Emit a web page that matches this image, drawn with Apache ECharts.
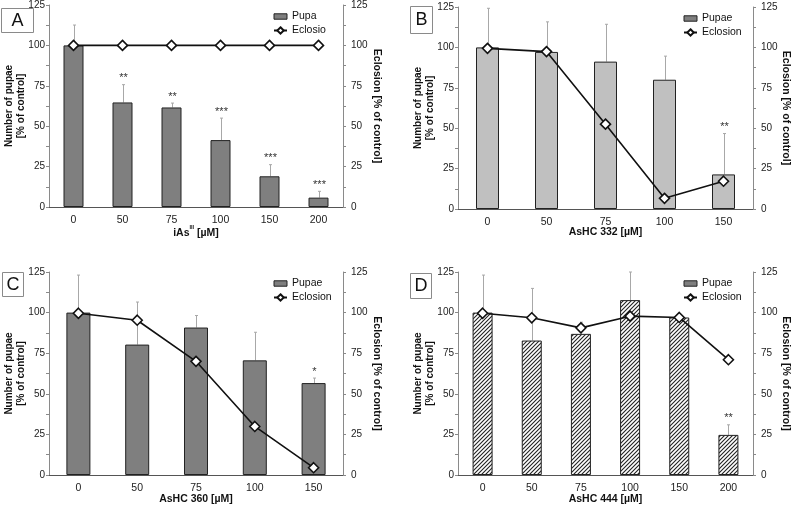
<!DOCTYPE html>
<html><head><meta charset="utf-8">
<script src="https://cdn.jsdelivr.net/npm/echarts@6/dist/echarts.min.js"></script>
<style>html,body{margin:0;padding:0;background:#fff}#c{width:792px;height:507px}</style>
</head><body><div id="c"></div>
<script>
// ---- Panel A: iAs(III)
const catsA = ['0', '50', '75', '100', '150', '200'];
const pupaA = [100, 64.7, 61.6, 41.4, 19.0, 5.8];
const pupaErrTopA = [112.6, 75.7, 64.3, 55.0, 26.2, 9.7];
const eclosionA = [100, 100, 100, 100, 100, 100];
const sigA = ['', '**', '**', '***', '***', '***'];
// ---- Panel B: AsHC 332
const catsB = ['0', '50', '75', '100', '150'];
const pupaB = [100, 97.2, 91.2, 80.0, 21.4];
const pupaErrTopB = [124.2, 115.8, 114.3, 94.6, 46.7];
const eclosionB = [99.4, 97.4, 52.5, 6.6, 17.2];
const sigB = ['', '', '', '', '**'];
// ---- Panel C: AsHC 360
const catsC = ['0', '50', '75', '100', '150'];
const pupaC = [100, 80.3, 90.8, 70.6, 56.6];
const pupaErrTopC = [123.1, 106.5, 98.2, 87.9, 59.7];
const eclosionC = [99.6, 95.3, 70.0, 29.9, 4.5];
const sigC = ['', '', '', '', '*'];
// ---- Panel D: AsHC 444
const catsD = ['0', '50', '75', '100', '150', '200'];
const pupaD = [100, 82.8, 86.9, 107.7, 97.0, 24.7];
const pupaErrTopD = [123.1, 114.9, 94.1, 125.0, 97.0, 30.9];
const eclosionD = [99.6, 96.8, 90.6, 97.8, 97.0, 71.0];
const sigD = ['', '', '', '', '', '**'];

const yTicks = {min: 0, max: 125, interval: 25};
const FF = '"Liberation Sans", Arial, sans-serif';

function hatch() {
  const c = document.createElement('canvas');
  c.width = 4; c.height = 4;
  const g = c.getContext('2d');
  g.fillStyle = '#fff'; g.fillRect(0, 0, 4, 4);
  g.strokeStyle = '#222'; g.lineWidth = 1.1;
  g.beginPath();
  g.moveTo(0, 4); g.lineTo(4, 0);
  g.moveTo(-1, 1); g.lineTo(1, -1);
  g.moveTo(3, 5); g.lineTo(5, 3);
  g.stroke();
  return c;
}

const panels = [
  {cats: catsA, pupa: pupaA, err: pupaErrTopA, ecl: eclosionA, sig: sigA, names: ['Pupa', 'Eclosio'],
   grid: {left: 49, right: 449, top: 5, bottom: 300}, barWidth: 20, barColor: '#7f7f7f',
   xName: '{n|iAs}{s|III}{n| [µM]}', xGap: 17, legend: {left: 268, top: 6}, yGap: 22, yGapR: 28},
  {cats: catsB, pupa: pupaB, err: pupaErrTopB, ecl: eclosionB, sig: sigB, names: ['Pupae', 'Eclosion'],
   grid: {left: 458, right: 39, top: 7, bottom: 298}, barWidth: 23, barColor: '#c0c0c0',
   xName: 'AsHC 332 [µM]', xGap: 18, legend: {left: 678, top: 8}, yGap: 22, yGapR: 27},
  {cats: catsC, pupa: pupaC, err: pupaErrTopC, ecl: eclosionC, sig: sigC, names: ['Pupae', 'Eclosion'],
   grid: {left: 49, right: 449, top: 272, bottom: 32}, barWidth: 24, barColor: '#7f7f7f',
   xName: 'AsHC 360 [µM]', xGap: 19, legend: {left: 268, top: 273}, yGap: 22, yGapR: 28},
  {cats: catsD, pupa: pupaD, err: pupaErrTopD, ecl: eclosionD, sig: sigD, names: ['Pupae', 'Eclosion'],
   grid: {left: 458, right: 39, top: 272, bottom: 32}, barWidth: 20, barColor: {image: hatch(), repeat: 'repeat'},
   xName: 'AsHC 444 [µM]', xGap: 19, legend: {left: 678, top: 273}, yGap: 22, yGapR: 27}
];

const option = {
  animation: false,
  backgroundColor: '#fff',
  textStyle: {fontFamily: FF},
  grid: [], xAxis: [], yAxis: [], series: [], legend: [], graphic: []
};

panels.forEach((p, k) => {
  option.grid.push(Object.assign({outerBoundsMode: 'none', containLabel: false}, p.grid));
  option.xAxis.push({
    type: 'category', gridIndex: k, data: p.cats,
    axisLine: {lineStyle: {color: '#555', width: 1}},
    axisTick: {show: false},
    axisLabel: {fontSize: 10.5, color: '#222', margin: 8, fontFamily: FF},
    name: p.xName, nameLocation: 'middle', nameGap: p.xGap, nameMoveOverlap: false,
    nameTextStyle: {fontWeight: 'bold', fontSize: 10.5, color: '#111', fontFamily: FF,
      rich: {n: {fontWeight: 'bold', fontSize: 10.5, color: '#111', lineHeight: 15, verticalAlign: 'bottom', fontFamily: FF},
             s: {fontWeight: 'bold', fontSize: 5.5, color: '#111', lineHeight: 6, verticalAlign: 'top', fontFamily: FF}}}
  });
  const yCommon = {
    type: 'value', gridIndex: k, min: yTicks.min, max: yTicks.max, interval: yTicks.interval,
    axisLine: {show: true, lineStyle: {color: '#8a8a8a', width: 1}},
    axisTick: {show: true, length: 3, lineStyle: {color: '#8a8a8a'}},
    minorTick: {show: true, splitNumber: 2, length: 3, lineStyle: {color: '#8a8a8a'}},
    splitLine: {show: false}, minorSplitLine: {show: false},
    nameLocation: 'middle', nameMoveOverlap: false
  };
  option.yAxis.push(Object.assign({}, yCommon, {
    position: 'left',
    axisLabel: {fontSize: 10, color: '#222', margin: 4, fontFamily: FF},
    name: 'Number of pupae\n[% of control]', nameRotate: 90, nameGap: p.yGap,
    nameTextStyle: {fontWeight: 'bold', fontSize: 10, color: '#111', lineHeight: 12, fontFamily: FF}
  }));
  option.yAxis.push(Object.assign({}, yCommon, {
    position: 'right',
    axisLabel: {fontSize: 10, color: '#222', margin: 8, fontFamily: FF},
    name: 'Eclosion [% of control]', nameRotate: -90, nameGap: p.yGapR,
    nameTextStyle: {fontWeight: 'bold', fontSize: 10.5, color: '#111', fontFamily: FF}
  }));
  option.series.push({
    type: 'custom', name: 'err' + k, xAxisIndex: k, yAxisIndex: 2 * k, z: 1, silent: true,
    data: p.pupa.map((v, i) => [i, v, p.err[i]]),
    renderItem: (params, api) => {
      const i = api.value(0);
      const a = api.coord([i, api.value(1)]);
      const b = api.coord([i, api.value(2)]);
      const x = Math.round(a[0]) + 0.5;
      const ch = [];
      if (a[1] - b[1] > 0.5) {
        ch.push({type: 'line', shape: {x1: x, y1: a[1], x2: x, y2: b[1]}, style: {stroke: '#a8a8a8', lineWidth: 1}});
        ch.push({type: 'line', shape: {x1: x - 1.5, y1: b[1], x2: x + 1.5, y2: b[1]}, style: {stroke: '#a8a8a8', lineWidth: 1}});
      }
      const s = p.sig[params.dataIndex];
      if (s) ch.push({type: 'text', x: x, y: b[1] - 1,
        style: {text: s, fill: '#333', font: '11px ' + FF, align: 'center', verticalAlign: 'bottom'}});
      return {type: 'group', children: ch};
    }
  });
  option.series.push({
    type: 'bar', name: p.names[0], xAxisIndex: k, yAxisIndex: 2 * k, z: 2,
    data: p.pupa, barWidth: p.barWidth,
    itemStyle: {color: p.barColor, borderColor: '#222', borderWidth: 1}
  });
  option.series.push({
    type: 'line', name: p.names[1], xAxisIndex: k, yAxisIndex: 2 * k + 1, z: 4,
    data: p.ecl, symbol: 'diamond', symbolSize: 10,
    lineStyle: {color: '#111', width: 1.6},
    itemStyle: {color: '#fff', borderColor: '#111', borderWidth: 1.6}
  });
  option.legend.push({
    left: p.legend.left, top: p.legend.top, orient: 'vertical', itemGap: 3,
    itemWidth: 13, itemHeight: 8, selectedMode: false,
    textStyle: {fontSize: 10.5, color: '#111', fontFamily: FF},
    data: [
      {name: p.names[0], icon: 'path://M0,0H12V5H0Z', itemStyle: {color: '#7f7f7f', borderColor: '#222', borderWidth: 1}},
      {name: p.names[1]}
    ]
  });
});

function box(x, y, w, h, t) {
  return {type: 'group', x: x, y: y, silent: true, children: [
    {type: 'rect', shape: {x: 0.5, y: 0.5, width: w, height: h}, style: {fill: '#fff', stroke: '#8a8a8a', lineWidth: 1}},
    {type: 'text', x: w / 2 + 0.5, y: h / 2 + 1, style: {text: t, fill: '#111', font: '18px ' + FF, align: 'center', verticalAlign: 'middle'}}
  ]};
}
option.graphic = [box(1, 8, 32, 24, 'A'), box(410, 6, 22, 27, 'B'), box(2, 272, 21, 24, 'C'), box(410, 273, 21, 25, 'D')];

const chart = echarts.init(document.getElementById('c'), null, {renderer: 'canvas'});
chart.setOption(option);
</script></body></html>
